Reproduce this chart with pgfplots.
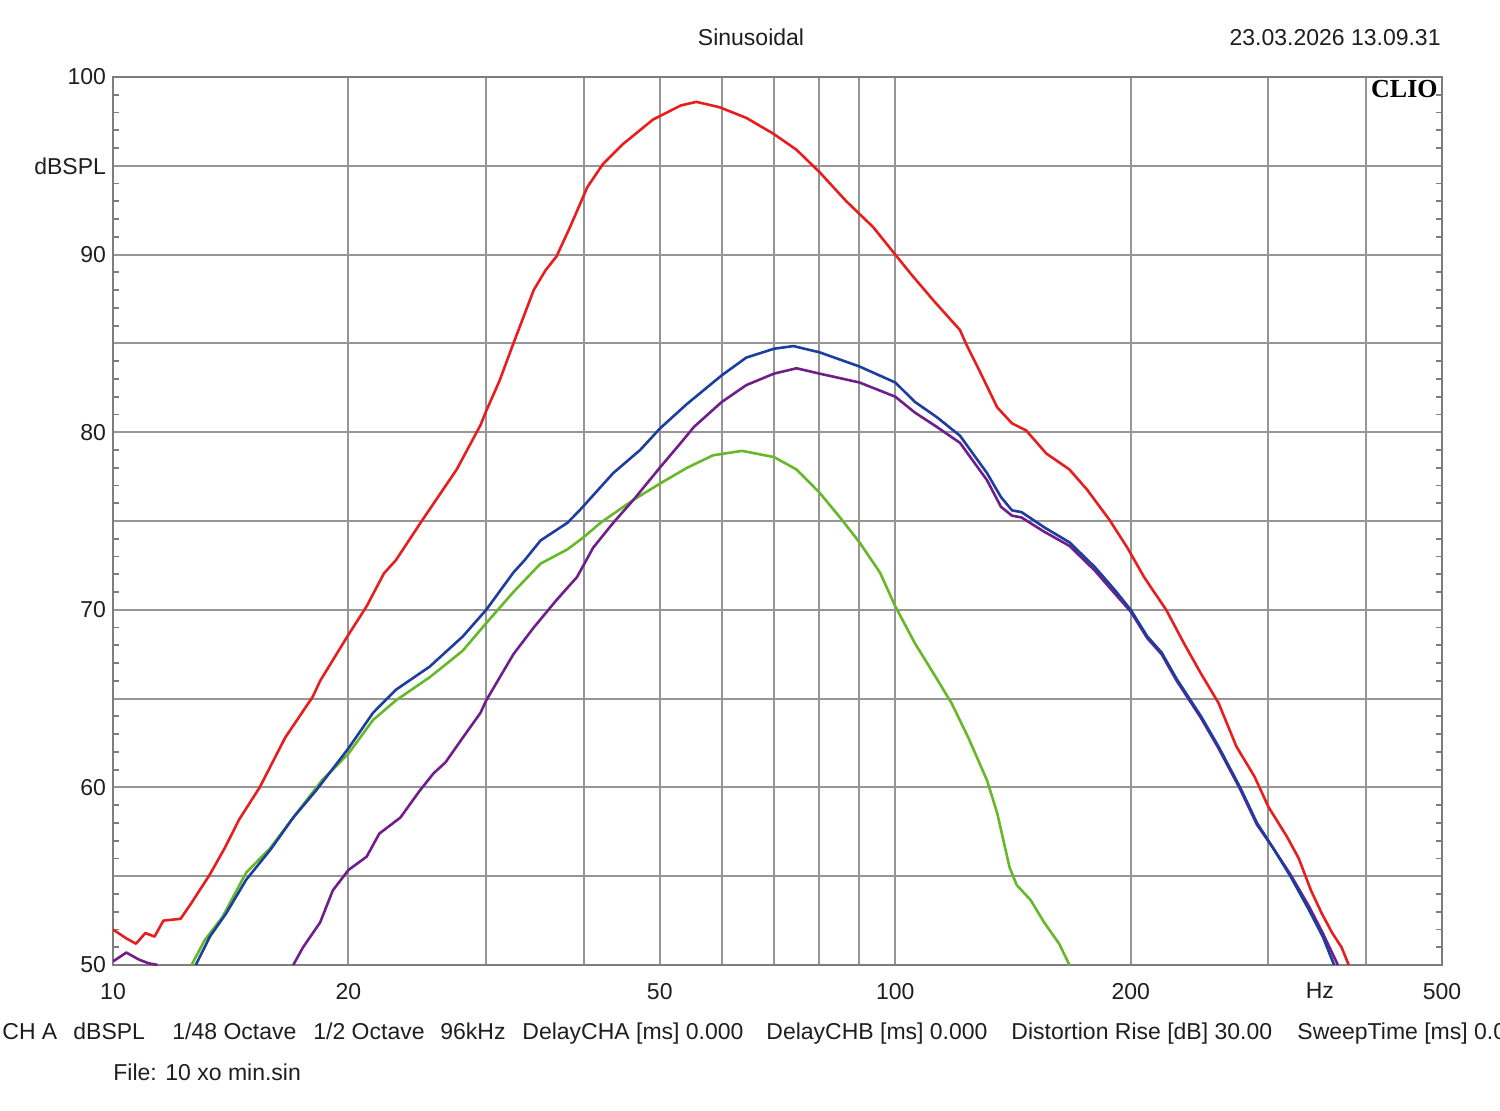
\documentclass[border=0pt]{standalone}
\usepackage{fontspec}
\setmainfont{Liberation Sans}
\newfontfamily\cliofont{Liberation Serif}
\usepackage{pgfplots}
\pgfplotsset{compat=1.18}

\definecolor{redc}{RGB}{232,30,30}
\definecolor{bluec}{RGB}{28,62,158}
\definecolor{purplec}{RGB}{112,30,138}
\definecolor{greenc}{RGB}{102,184,40}
\definecolor{gridc}{RGB}{150,150,150}
\definecolor{framec}{RGB}{125,125,125}
\definecolor{labc}{RGB}{30,30,30}

\newcommand\txt{\fontsize{11.5}{13.8}\selectfont}

\begin{document}
\begin{tikzpicture}[x=1pt,y=1pt]
\useasboundingbox (-56.5,-72.5) rectangle (693.5,482.5);
\begin{axis}[
  scale only axis, width=664.5pt, height=444pt,
  at={(0,0)}, anchor=south west,
  xmode=log, xmin=10, xmax=500, ymin=50, ymax=100,
  xtick={10,20,30,40,50,60,70,80,90,100,200,300,400,500},
  xticklabels={10,20,,,50,,,,,100,200,,,500},
  ytick={50,55,...,100},
  yticklabels={50,,60,,70,,80,,90,dBSPL,100},
  minor y tick num=4,
  xminorticks=false,
  tick align=inside,
  ytick pos=both, xtick pos=bottom,
  yticklabel pos=left,
  major tick length=0pt,
  minor tick length=3pt,
  grid=major,
  major grid style={color=gridc, line width=1pt},
  minor tick style={color=framec, line width=0.9pt},
  axis line style={color=framec, line width=1.4pt},
  tick label style={font=\txt, text=labc},
  /pgf/number format/assume math mode=true,
  xticklabel style={yshift=-5.5pt},
  clip mode=individual,
  every axis plot/.append style={line width=1.3pt, line join=round, no markers},
]

% red curve
\addplot[redc] coordinates {
(10,52.0) (10.4,51.5) (10.7,51.2) (11.0,51.8) (11.3,51.6) (11.6,52.5) (12.2,52.6)
(12.6,53.5) (13.3,55.1) (13.9,56.6) (14.5,58.2) (15.4,60.0) (16.6,62.8) (18.0,65.1)
(18.4,66.0) (20.0,68.6) (21.1,70.2) (22.2,72.05) (23.0,72.8) (24.9,75.1) (27.5,77.9)
(29.5,80.4) (30,81.2) (31.2,82.9) (32.5,85.0) (34.5,88.0) (35.7,89.1) (36.9,89.9)
(38.4,91.55) (40.4,93.8) (42.3,95.1) (44.8,96.2) (49.0,97.6) (53.2,98.4) (55.7,98.6)
(59.6,98.3) (64.5,97.7) (69.9,96.8) (74.8,95.9) (80,94.65) (86.6,93.0) (93.7,91.55)
(100,90.0) (105,88.85) (112,87.4) (121,85.75) (123.4,84.9) (128,83.5) (135,81.4)
(141,80.5) (147,80.1) (156,78.8) (167,77.9) (176,76.75) (188,75.05) (198,73.5)
(208,71.85) (212,71.3) (222,70.0) (234,68.1) (246,66.4) (259,64.75) (273,62.3)
(288,60.6) (300,58.9) (317,57.2) (328,56.0) (340,54.2) (351,52.9) (362,51.8)
(372,51.0) (380,50.0)
};

% green curve
\addplot[greenc] coordinates {
(12.6,50.0) (13.1,51.4) (13.8,52.7) (14.8,55.2) (15.9,56.6) (17.0,58.3) (18.5,60.4)
(20,61.9) (21.5,63.8) (23,64.9) (25.4,66.2) (28.0,67.7) (30,69.25) (32.5,71.0)
(35.2,72.6) (38.1,73.4) (40,74.1) (42,74.9) (46.3,76.2) (50,77.1) (54.2,78.0)
(58.5,78.7) (63.7,78.95) (70,78.6) (74.8,77.9) (80,76.6) (85,75.2) (90,73.8)
(95.6,72.1) (100,70.2) (106,68.1) (112,66.4) (118,64.75) (124,62.8) (131,60.4)
(135,58.55) (140,55.5) (143,54.5) (149,53.65) (155,52.4) (162,51.2) (167,50.0)
};

% purple curve, low-frequency tail
\addplot[purplec] coordinates {
(10,50.2) (10.4,50.7) (10.8,50.3) (11.1,50.1) (11.4,50.0)
};
% purple curve, main part
\addplot[purplec] coordinates {
(17.0,50.0) (17.5,51.0) (18.4,52.4) (19.1,54.2) (20,55.35) (21.1,56.1) (21.9,57.4)
(23.3,58.3) (24.7,59.85) (25.7,60.8) (26.6,61.4) (28.0,62.8) (29.5,64.2) (30,64.9)
(32.5,67.5) (34.5,69.0) (36.9,70.55) (39.2,71.85) (41.1,73.5) (43.6,74.9) (46.3,76.2)
(50,78.0) (53.2,79.4) (55.3,80.3) (60,81.7) (64.5,82.65) (70,83.3) (74.8,83.6)
(80,83.3) (90,82.8) (100,82.0) (106,81.1) (113,80.3) (121,79.4) (131,77.3)
(136.5,75.8) (141,75.3) (145,75.2) (155,74.4) (167,73.6) (180,72.2) (191,70.9)
(200,69.9) (210,68.4) (219,67.5) (229,66.0) (246,63.9) (259,62.2) (276,59.9)
(290,57.9) (304,56.6) (320,55.1) (338,53.3) (352,51.8) (368,50.0)
};

% blue curve
\addplot[bluec] coordinates {
(12.76,50.0) (13.3,51.6) (13.95,52.9) (14.8,54.8) (15.9,56.5) (17.0,58.3) (18.2,59.85)
(20.0,62.2) (21.5,64.2) (23.0,65.5) (25.4,66.8) (28.0,68.5) (30,70.0) (32.5,72.1)
(33.6,72.8) (35.2,73.9) (38.1,74.9) (39.5,75.6) (43.6,77.7) (47.2,79.0) (50,80.2)
(54.2,81.6) (60,83.2) (64.5,84.2) (70,84.7) (74.1,84.85) (80,84.5) (90,83.7)
(100,82.8) (106,81.7) (113,80.85) (121,79.8) (131,77.7) (136.5,76.35) (141,75.6)
(145,75.5) (155,74.65) (167,73.8) (180,72.4) (191,71.1) (200,70.0) (210,68.5)
(219,67.6) (229,66.1) (246,64.0) (259,62.3) (276,60.0) (290,58.0) (304,56.6)
(320,55.0) (338,53.1) (352,51.6) (364,50.0)
};

\node[anchor=east, inner sep=0pt, font=\cliofont\bfseries\fontsize{13}{15}\selectfont]
  at (rel axis cs:1,1) [xshift=-2pt, yshift=-6pt] {CLIO};
\node[anchor=north, font=\txt, text=labc] at (axis cs:349,50) [yshift=-5.5pt] {Hz};
\end{axis}

% header
\node[anchor=base, font=\txt, text=labc] at (319,459.5) {Sinusoidal};
\node[anchor=base east, inner sep=0pt, font=\txt, text=labc] at (664,459.5) {23.03.2026 13.09.31};

% footer
\begin{scope}[every node/.style={anchor=base west, inner sep=0pt, font=\txt, text=labc}]
\node at (-55.5,-37) {CH A};
\node at (-20,-37) {dBSPL};
\node at (29.5,-37) {1/48 Octave};
\node at (100,-37) {1/2 Octave};
\node at (163.5,-37) {96kHz};
\node at (204.5,-37) {DelayCHA [ms] 0.000};
\node at (326.5,-37) {DelayCHB [ms] 0.000};
\node at (449,-37) {Distortion Rise [dB] 30.00};
\node at (592,-37) {SweepTime [ms] 0.000};
\node at (0,-57.5) {File: 10 xo min.sin};
\end{scope}
\end{tikzpicture}
\end{document}
